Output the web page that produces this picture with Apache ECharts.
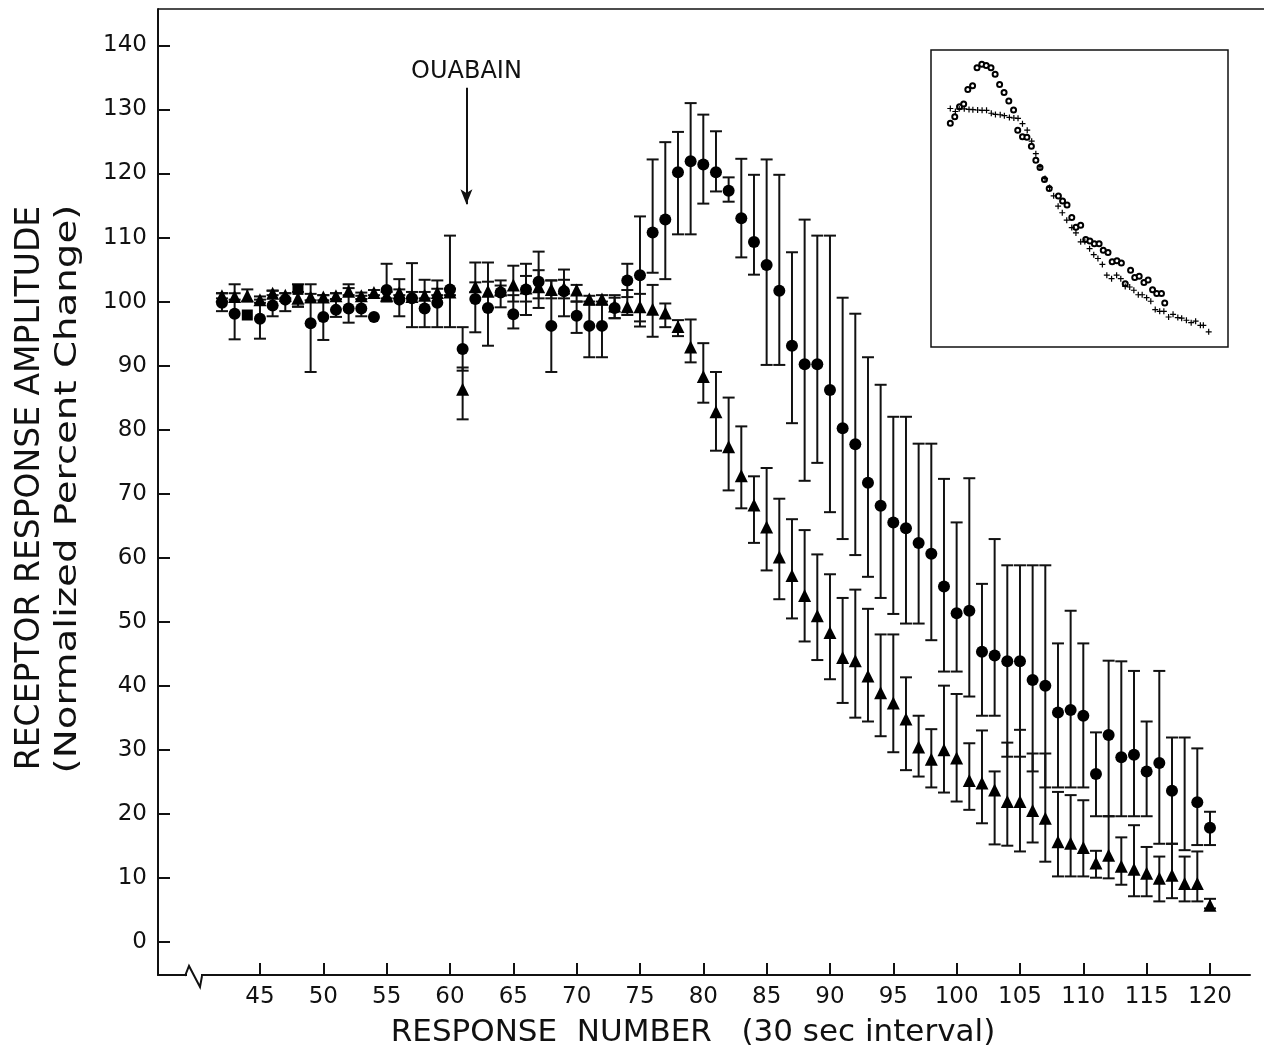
<!DOCTYPE html>
<html><head><meta charset="utf-8">
<script src="https://cdn.jsdelivr.net/npm/echarts@6.0.0/dist/echarts.min.js"></script>
<style>html,body{margin:0;padding:0;background:#fff}#c{width:1264px;height:1061px}</style>
</head><body><div id="c"></div><script>
// ---- data ----
const responseNumber = [42,43,44,45,46,47,48,49,50,51,52,53,54,55,56,57,58,59,60,61,62,63,64,65,66,67,68,69,70,71,72,73,74,75,76,77,78,79,80,81,82,83,84,85,86,87,88,89,90,91,92,93,94,95,96,97,98,99,100,101,102,103,104,105,106,107,108,109,110,111,112,113,114,115,116,117,118,119,120];
const circleMean = [99.8,98.1,null,97.3,99.4,100.3,null,96.6,97.6,98.7,98.9,98.9,97.6,101.8,100.3,100.5,98.9,99.8,101.9,92.6,100.4,99.0,101.4,98.0,101.9,103.1,96.2,101.6,97.8,96.2,96.2,99.0,103.3,104.1,110.8,112.8,120.2,121.9,121.4,120.2,117.3,113.0,109.3,105.7,101.7,93.1,90.2,90.2,86.2,80.2,77.7,71.7,68.1,65.5,64.6,62.3,60.6,55.5,51.3,51.7,45.3,44.7,43.8,43.8,40.9,40.0,35.8,36.2,35.3,26.2,32.3,28.8,29.2,26.6,27.9,23.6,null,21.8,17.8];
const circleLow = [98.5,94.1,null,94.2,97.7,98.5,99.2,89.0,94.0,97.6,96.7,97.7,null,100.0,97.7,96.0,96.0,96.0,96.0,89.2,95.2,93.1,99.1,95.8,97.9,99.0,89.0,97.7,95.1,91.3,91.3,97.4,100.7,96.1,104.5,103.5,110.5,110.5,115.3,117.2,115.6,106.9,104.2,90.1,90.1,81.0,72.0,74.8,67.1,62.9,60.4,57.0,53.7,51.2,49.7,49.7,47.1,42.2,42.2,38.3,35.3,35.3,28.9,28.9,26.6,24.1,24.1,24.1,24.1,19.6,19.6,19.6,19.6,19.6,15.3,15.3,14.3,15.1,15.1];
const circleHigh = [101.3,102.7,null,100.3,101.7,101.3,102.7,102.7,101.0,101.3,102.7,100.9,null,105.9,103.5,106.0,103.4,103.3,110.3,96.0,106.1,103.1,103.3,101.0,104.0,107.8,103.3,105.0,100.0,100.0,100.0,100.6,105.9,113.3,122.2,124.9,126.5,131.0,129.2,126.6,119.4,122.3,119.8,122.2,119.8,107.7,112.8,110.3,110.3,100.6,98.1,91.3,87.0,82.0,82.0,77.8,77.8,72.3,65.5,72.4,55.9,62.9,58.8,58.8,58.8,58.8,46.6,51.7,46.6,32.7,43.9,43.8,42.3,34.4,42.3,31.9,31.9,30.2,20.3];
const triangleMean = [100.9,100.8,100.9,100.3,101.3,101.0,100.5,100.7,100.7,100.9,101.6,100.9,101.4,101.0,101.4,100.8,101.0,101.4,101.5,86.3,102.3,101.6,101.8,102.6,102.1,102.3,101.9,102.1,101.8,100.4,100.4,99.3,99.2,99.2,98.8,98.2,96.1,92.9,88.3,82.8,77.3,72.8,68.2,64.8,60.1,57.2,54.1,50.9,48.3,44.4,43.9,41.5,38.9,37.3,34.8,30.4,28.5,30.0,28.7,25.2,24.8,23.7,21.9,21.9,20.5,19.3,15.6,15.4,14.7,12.3,13.5,11.8,11.3,10.7,9.9,10.4,9.1,9.1,5.7];
const triangleLow = [100.5,100.3,100.0,99.8,101.0,100.5,99.2,100.2,100.2,100.4,101.0,100.4,101.0,100.5,101.0,100.5,100.5,101.0,101.0,81.6,101.5,99.0,101.0,100.0,100.0,100.5,100.5,100.5,100.0,99.5,99.5,97.4,97.9,96.9,94.5,96.0,94.6,90.5,84.2,76.7,70.5,67.7,62.3,58.0,53.5,50.5,46.9,44.0,41.0,37.3,35.0,34.4,32.1,29.6,26.8,25.8,24.1,23.3,21.9,20.6,18.5,15.2,15.0,14.1,15.5,12.5,10.2,10.2,10.2,10.0,9.9,8.9,7.1,7.1,6.3,6.8,6.3,6.3,5.2];
const triangleHigh = [101.3,101.3,101.9,100.8,101.7,101.3,101.5,101.2,101.0,101.3,102.1,101.4,101.8,101.5,101.9,101.5,101.5,102.0,102.0,89.7,103.0,106.1,102.5,105.6,105.9,104.9,103.3,103.4,102.6,100.9,101.0,101.0,101.8,101.2,102.6,99.7,97.1,97.2,93.5,89.0,85.0,80.5,72.7,74.0,69.2,66.0,64.3,60.5,57.4,53.7,55.0,52.0,48.0,48.0,41.3,35.3,33.2,40.0,38.7,31.0,33.0,26.6,31.1,33.1,29.4,29.4,23.4,22.9,22.1,14.2,19.6,16.3,18.2,14.8,13.3,15.3,13.3,14.1,6.7];
const squareNumber = [44, 48];
const squareMean = [97.9, 101.9];
const xTicks = [45,50,55,60,65,70,75,80,85,90,95,100,105,110,115,120];
const yTicks = [0,10,20,30,40,50,60,70,80,90,100,110,120,130,140];
const ouabainAt = 61.3;
// inset (relative units 0-100 within the small frame)
const insetCircles = [[6.5,75.3],[8.0,77.5],[9.6,80.9],[11.0,81.8],[12.4,86.7],[14.0,88.0],[15.5,94.0],[17.1,95.2],[18.6,94.8],[20.2,94.0],[21.6,91.8],[23.1,88.4],[24.6,85.7],[26.2,82.8],[27.8,79.8],[29.2,73.0],[30.8,70.8],[32.3,70.6],[33.8,67.6],[35.3,62.9],[36.7,60.4],[38.2,56.4],[39.8,53.4],[42.9,50.8],[44.3,49.2],[45.8,47.8],[47.4,43.6],[48.8,40.3],[50.4,41.0],[52.1,36.2],[53.5,35.7],[55.0,34.8],[56.6,34.8],[58.0,32.6],[59.6,31.8],[61.0,28.7],[62.6,29.0],[64.1,28.3],[65.4,21.3],[67.2,25.8],[68.6,23.4],[70.1,23.8],[71.7,21.7],[73.1,22.6],[74.6,19.3],[76.0,18.0],[77.6,18.0],[78.7,14.8]];
const insetCrosses = [[6.5,80.3],[8.2,79.3],[9.5,80.2],[11.2,80.2],[12.8,80.0],[14.1,79.9],[15.7,79.8],[17.2,79.7],[18.7,79.7],[20.3,78.7],[21.7,78.3],[23.3,78.2],[24.7,77.9],[26.4,77.3],[27.9,77.1],[29.3,77.0],[30.8,75.2],[32.4,73.0],[33.9,69.3],[35.3,65.1],[36.7,60.7],[38.4,56.7],[39.9,53.7],[41.3,50.9],[42.8,47.4],[44.2,45.2],[45.7,42.7],[47.4,40.2],[48.8,38.4],[50.4,35.4],[51.8,35.5],[53.4,33.1],[54.8,31.1],[56.2,29.8],[57.7,27.8],[59.2,24.2],[60.8,23.0],[62.5,24.2],[63.9,23.0],[65.4,20.4],[66.9,20.2],[68.3,19.1],[69.8,17.6],[71.1,17.6],[72.6,16.6],[74.0,15.4],[75.5,12.6],[77.0,12.0],[78.4,12.0],[80.0,10.1],[81.5,11.0],[83.1,9.9],[84.4,9.7],[86.0,9.0],[87.6,8.2],[89.1,8.7],[90.7,7.3],[91.7,7.3],[93.5,5.1]];

// ---- build ----
const INK = '#000';
const FONT = 'DejaVu Sans';
function pts(xs, ys){ const o=[]; for(let i=0;i<xs.length;i++){ if(ys[i]!=null) o.push([xs[i], ys[i]]); } return o; }
function bars(xs, lo, hi){ const o=[]; for(let i=0;i<xs.length;i++){ if(lo[i]!=null && hi[i]!=null) o.push([xs[i], lo[i], hi[i]]); } return o; }
function errRender(params, api){
  const x = api.value(0), lo = api.value(1), hi = api.value(2);
  const a = api.coord([x, hi]), b = api.coord([x, lo]);
  const hw = 6, st = {stroke: '#111', lineWidth: 2};
  return {type:'group', children:[
    {type:'line', shape:{x1:a[0], y1:a[1], x2:b[0], y2:b[1]}, style:st},
    {type:'line', shape:{x1:a[0]-hw, y1:a[1], x2:a[0]+hw, y2:a[1]}, style:st},
    {type:'line', shape:{x1:b[0]-hw, y1:b[1], x2:b[0]+hw, y2:b[1]}, style:st}
  ]};
}
const solid = {color:INK, opacity:1};
const chart = echarts.init(document.getElementById('c'), null, {renderer:'canvas'});
chart.setOption({
  animation: false,
  backgroundColor: '#fff',
  grid: [
    {left:158, top:9, right:14, bottom:86},
    {left:931, top:50, width:297, height:297, show:true, borderColor:'#111', borderWidth:1.5, backgroundColor:'rgba(0,0,0,0)'}
  ],
  xAxis: [
    {type:'value', gridIndex:0, min:36.95, max:123.16,
     axisLine:{show:true, onZero:false, lineStyle:{color:'#111', width:2}},
     axisTick:{show:true, inside:true, length:12, customValues:xTicks, lineStyle:{color:'#111', width:2}},
     axisLabel:{customValues:xTicks, color:'#111', fontSize:23, fontFamily:FONT, margin:11},
     splitLine:{show:false}},
    {type:'value', gridIndex:1, min:0, max:100, show:false}
  ],
  yAxis: [
    {type:'value', gridIndex:0, min:-5.2, max:145.7,
     axisLine:{show:true, onZero:false, lineStyle:{color:'#111', width:2}},
     axisTick:{show:true, inside:true, length:12, customValues:yTicks, lineStyle:{color:'#111', width:2}},
     axisLabel:{customValues:yTicks, color:'#111', fontSize:23, fontFamily:FONT, margin:11},
     splitLine:{show:false}},
    {type:'value', gridIndex:1, min:0, max:100, show:false}
  ],
  series: [
    {type:'custom', name:'circleErr', xAxisIndex:0, yAxisIndex:0, renderItem:errRender,
     encode:{x:0, y:[1,2]}, data:bars(responseNumber, circleLow, circleHigh), z:2, clip:false},
    {type:'custom', name:'triangleErr', xAxisIndex:0, yAxisIndex:0, renderItem:errRender,
     encode:{x:0, y:[1,2]}, data:bars(responseNumber, triangleLow, triangleHigh), z:2, clip:false},
    {type:'scatter', name:'circles', data:pts(responseNumber, circleMean), symbol:'circle', symbolSize:12,
     itemStyle:solid, z:4},
    {type:'scatter', name:'squares', data:pts(squareNumber, squareMean), symbol:'rect', symbolSize:11,
     itemStyle:solid, z:4},
    {type:'scatter', name:'triangles', data:pts(responseNumber, triangleMean), symbol:'triangle', symbolSize:13,
     itemStyle:solid, z:4,
     markLine:{silent:true, symbol:['none','arrow'], symbolSize:[9,15],
       lineStyle:{color:'#111', width:2, type:'solid', opacity:1},
       label:{show:true, position:'start', formatter:'OUABAIN', color:'#111', fontSize:24, fontFamily:FONT, distance:4},
       data:[[{coord:[ouabainAt, 133.4]}, {coord:[ouabainAt, 115.2]}]]}},
    {type:'scatter', name:'insetCircles', xAxisIndex:1, yAxisIndex:1, data:insetCircles,
     symbol:'emptyCircle', symbolSize:5, itemStyle:{color:INK, borderColor:INK, borderWidth:1.3, opacity:1}, z:6},
    {type:'scatter', name:'insetCrosses', xAxisIndex:1, yAxisIndex:1, data:insetCrosses,
     symbol:'path://M4,0H6V4H10V6H6V10H4V6H0V4H4Z', symbolSize:6, itemStyle:solid, z:6}
  ],
  graphic: [
    {type:'line', shape:{x1:158, y1:9, x2:1264, y2:9}, style:{stroke:'#111', lineWidth:1.5}, z:10},
    {type:'rect', shape:{x:187, y:971, width:14, height:9}, style:{fill:'#fff'}, z:10},
    {type:'polyline', shape:{points:[[185,976],[189,966],[200,987],[202,976]]}, style:{stroke:'#111', lineWidth:2, fill:null}, z:11},
    {type:'text', x:30, y:488, rotation:Math.PI/2,
     style:{text:'RECEPTOR RESPONSE AMPLITUDE', font:'33px "DejaVu Sans"', fill:'#111', textAlign:'center', textVerticalAlign:'middle'}},
    {type:'text', x:68, y:489, rotation:Math.PI/2, scaleX:1.25,
     style:{text:'(Normalized Percent Change)', font:'31px "DejaVu Sans"', fill:'#111', textAlign:'center', textVerticalAlign:'middle'}},
    {type:'text', x:693, y:1033,
     style:{text:'RESPONSE  NUMBER   (30 sec interval)', font:'31px "DejaVu Sans"', fill:'#111', textAlign:'center', textVerticalAlign:'middle'}}
  ]
});
</script></body></html>
